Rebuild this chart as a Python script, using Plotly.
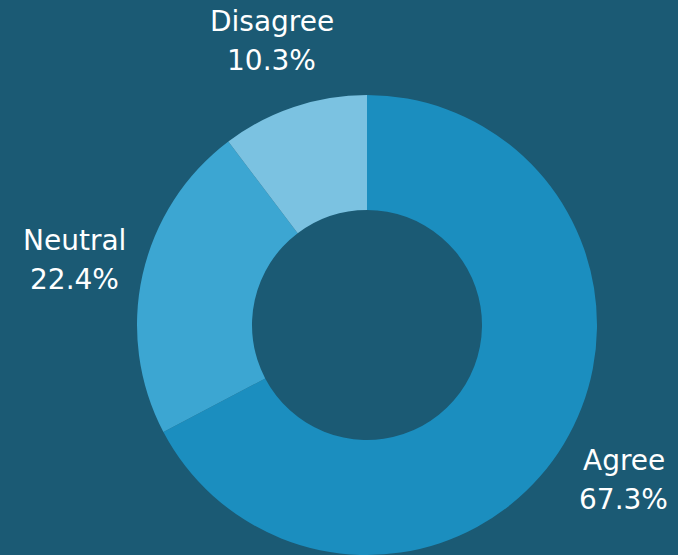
import math
import plotly.graph_objects as go

# Survey responses
labels = ["Agree", "Neutral", "Disagree"]
values = [67.3, 22.4, 10.3]
colors = ["#1b8ebf", "#3ca6d2", "#7bc2e1"]

BG = "#1b5a74"
FONT = dict(family="DejaVu Sans", size=28, color="#ffffff")

LABEL_DIST = 300   # px from the pie centre to the middle of each label block
LINE_GAP = 39      # px between the name line and the percentage line

fig = go.Figure(
    go.Pie(
        labels=labels,
        values=values,
        hole=0.5,
        sort=False,
        direction="clockwise",
        rotation=0,
        automargin=False,
        marker=dict(colors=colors, line=dict(width=0)),
        textinfo="none",
        showlegend=False,
        hoverinfo="label+percent",
    )
)

# Outside labels placed along each slice's mid-angle
total = sum(values)
annotations = []
cum = 0.0
for name, v in zip(labels, values):
    share = v / total
    mid = (cum + share / 2) * 2 * math.pi  # clockwise from 12 o'clock
    cum += share
    dx = LABEL_DIST * math.sin(mid)
    dy = LABEL_DIST * math.cos(mid)
    for text, off in ((name, LINE_GAP / 2), (f"{share * 100:.1f}%", -LINE_GAP / 2)):
        annotations.append(dict(
            text=text, xref="paper", yref="paper", x=0.5, y=0.5,
            xanchor="center", yanchor="middle",
            xshift=dx, yshift=dy + off,
            showarrow=False, font=FONT,
        ))

fig.update_layout(
    width=678,
    height=555,
    margin=dict(l=56, r=0, t=95, b=0, autoexpand=False),
    paper_bgcolor=BG,
    plot_bgcolor=BG,
    annotations=annotations,
)

fig.write_html("out.html")
